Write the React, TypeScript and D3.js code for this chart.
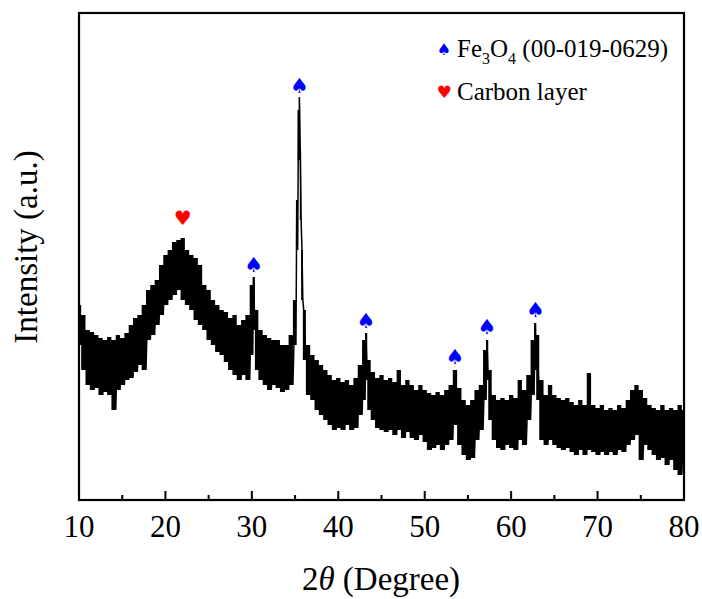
import React from "react";
import * as d3 from "d3";

// XRD pattern: 2θ (deg), upper and lower envelope of the noisy trace (a.u.)
const angles = [10.0,10.5,11.0,11.5,12.0,12.5,13.0,13.5,14.0,14.5,15.0,15.5,16.0,16.5,17.0,17.5,18.0,18.5,19.0,19.5,20.0,20.5,21.0,21.5,22.0,22.5,23.0,23.5,24.0,24.5,25.0,25.5,26.0,26.5,27.0,27.5,28.0,28.5,29.0,29.5,30.0,30.2,30.5,31.0,31.5,32.0,32.5,33.0,33.5,34.0,34.5,35.0,35.2,35.4,35.5,35.6,35.8,36.0,36.5,37.0,37.5,38.0,38.5,39.0,39.5,40.0,40.5,41.0,41.5,42.0,42.5,43.0,43.2,43.5,44.0,44.5,45.0,45.5,46.0,46.5,47.0,47.5,48.0,48.5,49.0,49.5,50.0,50.5,51.0,51.5,52.0,52.5,53.0,53.5,54.0,54.5,55.0,55.5,56.0,56.5,57.0,57.2,57.5,58.0,58.5,59.0,59.5,60.0,60.5,61.0,61.5,62.0,62.5,62.8,63.0,63.5,64.0,64.5,65.0,65.5,66.0,66.5,67.0,67.5,68.0,68.5,69.0,69.5,70.0,70.5,71.0,71.5,72.0,72.5,73.0,73.5,74.0,74.5,75.0,75.5,76.0,76.5,77.0,77.5,78.0,78.5,79.0,79.5,80.0];
const upperVals = [195,185,170,168,165,162,160,163,160,165,162,167,175,182,185,195,210,215,220,235,245,250,258,260,262,250,245,242,235,215,210,200,195,190,188,182,185,175,180,185,215,223,190,170,165,162,160,160,155,155,165,200,300,390,403,350,250,190,155,145,140,135,130,125,120,122,118,120,115,122,135,160,167,140,128,122,125,120,122,118,130,115,120,115,110,115,110,107,105,108,105,110,115,130,112,100,95,100,110,115,150,160,130,105,100,102,100,105,102,120,110,125,160,177,165,120,105,115,105,102,100,102,98,95,100,95,127,95,92,95,90,92,90,95,92,100,110,115,110,102,95,92,90,95,90,92,90,95,90];
const lowerVals = [155,130,115,110,112,105,108,105,90,110,115,120,122,128,135,130,160,165,175,185,195,200,205,210,200,195,190,180,175,170,160,155,148,145,138,130,125,120,125,120,145,170,130,120,115,110,115,112,108,110,115,155,250,340,380,280,200,140,105,100,90,85,80,75,70,72,70,75,70,72,85,100,120,90,80,72,70,68,70,65,70,62,68,62,60,65,58,50,52,55,50,55,60,75,55,45,40,42,60,70,100,120,80,60,52,50,55,52,50,60,55,80,105,130,100,60,55,60,55,52,50,52,48,45,50,45,50,48,45,48,45,48,45,50,48,55,60,65,40,55,50,45,40,42,35,40,30,25,35];

const xTicks = [10, 20, 30, 40, 50, 60, 70, 80];
const xMinorTicks = [15, 25, 35, 45, 55, 65, 75];

// Peak markers: angle and height of marker (a.u.)
const fePeakAngles = [30.2, 35.5, 43.2, 53.5, 57.2, 62.8];
const fePeakHeights = [235, 414, 179, 143, 173, 190];
const carbonPeakAngles = [22.0];
const carbonPeakHeights = [282];

const SERIF = "'Times New Roman', 'Liberation Serif', serif";
const SYM = "'DejaVu Sans', sans-serif";

export default function App() {
  const W = 702, H = 599;
  const left = 79, right = 684, top = 13, bottom = 500;
  const x = d3.scaleLinear().domain([10, 80]).range([left, right]);
  const y = d3.scaleLinear().domain([0, 487]).range([bottom, top]);

  const pts: [number, number][] = [];
  angles.forEach((a, i) => {
    pts.push([a, upperVals[i]]);
    const next = i < angles.length - 1 ? angles[i + 1] : a;
    pts.push([(a + next) / 2, lowerVals[i]]);
  });
  const line = d3.line<[number, number]>().x(d => x(d[0])).y(d => y(d[1]));
  const area = d3.area<number>()
    .curve(d3.curveStep)
    .x((_, i) => x(angles[i]))
    .y0((_, i) => y(lowerVals[i]))
    .y1((_, i) => y(upperVals[i]));

  return (
    <svg width={W} height={H} style={{ position: "absolute", left: 0, top: 0, background: "#fff" }}>
      <rect x={0} y={0} width={W} height={H} fill="#fff" />
      <path d={area(angles) || ""} fill="#000" stroke="none" />
      <path d={line(pts) || ""} fill="none" stroke="#000" strokeWidth={1.5} strokeLinejoin="miter" />
      {/* frame */}
      <rect x={left} y={top} width={right - left} height={bottom - top} fill="none" stroke="#000" strokeWidth={2.2} />
      {xTicks.map(t => (
        <g key={"t" + t}>
          <line x1={x(t)} x2={x(t)} y1={bottom} y2={bottom - 9} stroke="#000" strokeWidth={2} />
          <text x={x(t)} y={537} textAnchor="middle" fontFamily={SERIF} fontSize={31} fill="#000">{t}</text>
        </g>
      ))}
      {xMinorTicks.map(t => (
        <line key={"m" + t} x1={x(t)} x2={x(t)} y1={bottom} y2={bottom - 5} stroke="#000" strokeWidth={2} />
      ))}
      {/* markers */}
      {fePeakAngles.map((a, i) => (
        <text key={"fe" + i} x={x(a)} y={y(fePeakHeights[i])} textAnchor="middle" dominantBaseline="central"
          fontFamily={SYM} fontSize={21} fill="#0000ff">♠</text>
      ))}
      {carbonPeakAngles.map((a, i) => (
        <text key={"c" + i} x={x(a)} y={y(carbonPeakHeights[i])} textAnchor="middle" dominantBaseline="central"
          fontFamily={SYM} fontSize={20} fill="#ff0000">♥</text>
      ))}
      {/* legend */}
      <text x={444} y={49} textAnchor="middle" dominantBaseline="central" fontFamily={SYM} fontSize={16} fill="#0000ff">♠</text>
      <text x={457} y={57} fontFamily={SERIF} fontSize={25} fill="#000">
        Fe<tspan fontSize={16} dy={7}>3</tspan><tspan dy={-7}>O</tspan><tspan fontSize={16} dy={7}>4</tspan><tspan dy={-7}> (00-019-0629)</tspan>
      </text>
      <text x={444} y={92} textAnchor="middle" dominantBaseline="central" fontFamily={SYM} fontSize={17} fill="#ff0000">♥</text>
      <text x={457} y={100} fontFamily={SERIF} fontSize={25} fill="#000">Carbon layer</text>
      {/* axis titles */}
      <text x={381} y={590} textAnchor="middle" fontFamily={SERIF} fontSize={33} fill="#000">
        2<tspan fontStyle="italic">θ</tspan> (Degree)
      </text>
      <text transform="translate(37,247) rotate(-90)" textAnchor="middle" fontFamily={SERIF} fontSize={33} fill="#000">
        Intensity (a.u.)
      </text>
    </svg>
  );
}
